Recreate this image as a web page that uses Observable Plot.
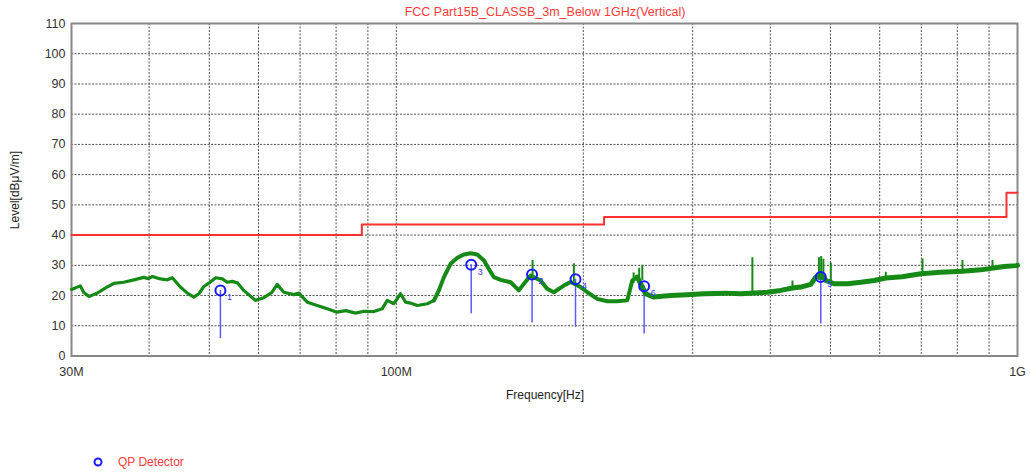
<!DOCTYPE html>
<html>
<head>
<meta charset="utf-8">
<script src="https://cdn.jsdelivr.net/npm/d3@7"></script>
<script src="https://cdn.jsdelivr.net/npm/@observablehq/plot@0.6"></script>
<style>
  html, body { margin: 0; padding: 0; background: #fff; }
  #wrap { position: relative; width: 1030px; height: 476px; font-family: "Liberation Sans", Arial, sans-serif; }
  #chart { position: absolute; left: 0; top: 0; }
  .ov { position: absolute; white-space: nowrap; font-size: 12px; }
  #title { left: 545px; top: 5px; transform: translateX(-50%); color: #ff3a3a; font-size: 12.5px; }
  #xlab { left: 545px; top: 388px; transform: translateX(-50%); color: #222; }
  #ylab { left: 15px; top: 190px; transform: translate(-50%, -50%) rotate(-90deg); color: #222; }
  #legend { left: 92px; top: 455px; color: #ff3a3a; display: flex; align-items: center; }
  #legend svg { margin-right: 14px; }
</style>
</head>
<body>
<div id="wrap">
  <div id="chart"></div>
  <div class="ov" id="title"></div>
  <div class="ov" id="xlab"></div>
  <div class="ov" id="ylab"></div>
  <div class="ov" id="legend"></div>
</div>
<script>
// ---- Text ----
const titleText = "FCC Part15B_CLASSB_3m_Below 1GHz(Vertical)";
const xLabel = "Frequency[Hz]";
const yLabel = "Level[dBμV/m]";
const legendLabel = "QP Detector";

// ---- Axis ticks ----
const xTicks = [30, 100, 1000];                 // MHz
const xTickLabels = ["30M", "100M", "1G"];
const xGrid = [40, 50, 60, 70, 80, 90, 100, 200, 300, 400, 500, 600, 700, 800, 900];
const yTicks = [0, 10, 20, 30, 40, 50, 60, 70, 80, 90, 100, 110];

// ---- Limit line (step) ----
const limitFreq = [30, 88, 216, 960, 1000];
const limitLevel = [40, 43.5, 46, 54, 54];

// ---- Measured trace (MHz, dBμV/m) ----
const traceFreq = [30, 31.0, 31.4, 32.0, 33.0, 34.2, 35.1, 36.4, 37.8, 39.2, 39.9, 40.5, 41.7, 42.8, 43.6, 44.9, 46.1, 47.2, 48.1, 49.0, 49.9, 51.2, 52.5, 53.4, 54.4, 55.5, 56.8, 59.3, 61.2, 63.1, 64.3, 65.9, 68.4, 69.7, 71.9, 74.6, 77.4, 80.3, 82.9, 86.0, 88.7, 92.0, 94.9, 96.7, 99.1, 101.6, 103.5, 105.4, 108.1, 112.2, 115.0, 117.1, 119.3, 122.3, 125.4, 128.5, 131.7, 135.0, 138.4, 140.9, 143.6, 147.2, 152.8, 157.5, 160.5, 164.5, 170.7, 175.0, 179.3, 186.1, 190.8, 198.0, 203.0, 210.6, 218.6, 226.8, 235.4, 239.8, 244.3, 251.9, 259.8, 276.5, 294.2, 312.8, 339.1, 358.4, 395.8, 415.8, 434.3, 447.8, 464.7, 473.4, 482.3, 491.3, 506.7, 532.6, 559.5, 587.7, 613.8, 652, 698.7, 752.4, 815.5, 872.8, 951.5, 993.8, 1000];
const traceLevel = [22, 23.2, 21, 19.7, 20.8, 22.8, 24, 24.4, 25.2, 26, 25.6, 26.3, 25.5, 25.2, 25.9, 22.8, 20.8, 19.5, 20.6, 23, 24.1, 25.9, 25.5, 24.4, 24.7, 24.2, 21.7, 18.4, 19.3, 21.1, 23.7, 21.1, 20.3, 20.8, 17.8, 16.7, 15.6, 14.5, 15, 14.2, 14.8, 14.7, 15.6, 18.4, 17.3, 20.6, 17.8, 17.5, 16.7, 17.3, 18.4, 21.7, 26.1, 30.5, 32.5, 33.6, 34, 33.6, 31.6, 28.8, 26.1, 25.2, 24.4, 21.7, 23.9, 26.6, 25, 22.2, 21.1, 23.3, 24.5, 22.8, 21.1, 18.9, 18.1, 18.1, 18.4, 25, 26.1, 20.6, 19.5, 20, 20.3, 20.6, 20.8, 20.6, 21.1, 21.7, 22.5, 22.8, 23.7, 26.1, 27, 25, 23.9, 23.9, 24.4, 25, 25.8, 26.2, 27.2, 27.7, 28, 28.5, 29.6, 29.9, 30];

// ---- Narrow spikes on the trace ----
const spikeFreq = [165.7, 193.1, 241, 246, 248.9, 374.3, 434.3, 479, 483, 487, 500.6, 613.8, 703.1, 815.5, 911.5];
const spikeBase = [26, 24, 24, 25, 25, 21, 22, 25, 25, 25, 24, 25.5, 27, 28, 29];
const spikeTop = [31.6, 30.5, 27.5, 29, 30, 32.5, 24.8, 32.5, 32.9, 32, 30.7, 27.7, 32.1, 31.6, 31.6];

// ---- QP detector markers ----
const markerFreq = [52.1, 132.0, 165.4, 194.3, 250.6, 482.3];
const markerLevel = [21.7, 30.2, 27.0, 25.4, 23.1, 26.1];
const markerStem = [5.7, 14.0, 10.9, 9.5, 7.3, 10.6];
const markerLabel = ["1", "3", "2", "4", "6", "5"];

// ---- Build tables ----
const trace = traceFreq.map((f, i) => ({f, v: traceLevel[i]}));
const limit = limitFreq.map((f, i) => ({f, v: limitLevel[i]}));
const spikes = spikeFreq.map((f, i) => ({f, b: spikeBase[i], t: spikeTop[i]}));
const markers = markerFreq.map((f, i) => ({f, v: markerLevel[i], s: markerStem[i], label: markerLabel[i]}));

const green = "#168a16";
const blue = "#1a1aff";

const chart = Plot.plot({
  width: 1030,
  height: 476,
  marginLeft: 71,
  marginRight: 13,
  marginTop: 23,
  marginBottom: 120.5,
  style: {fontFamily: "'Liberation Sans', Arial, sans-serif", background: "white"},
  x: {type: "log", domain: [30, 1000]},
  y: {domain: [0, 110]},
  marks: [
    Plot.ruleX(xGrid, {stroke: "#333", strokeWidth: 1, strokeDasharray: "2,1.5", strokeOpacity: 0.85}),
    Plot.ruleY(yTicks.slice(1, -1), {stroke: "#333", strokeWidth: 1, strokeDasharray: "2,1.5", strokeOpacity: 0.85}),
    Plot.frame({stroke: "#888", strokeWidth: 2}),
    Plot.axisY(yTicks, {tickSize: 0, tickPadding: 6, fontSize: 12.5, fill: "#333", label: null}),
    Plot.axisX(xTicks, {tickSize: 0, tickPadding: 11, fontSize: 12.5, fill: "#333", label: null,
      tickFormat: (d) => xTickLabels[xTicks.indexOf(d)]}),
    Plot.line(limit, {x: "f", y: "v", curve: "step-after", stroke: "#ff3030", strokeWidth: 2}),
    Plot.ruleX(markers, {x: "f", y1: "s", y2: "v", stroke: "#5a5aff", strokeWidth: 1.5}),
    Plot.ruleX(spikes, {x: "f", y1: "b", y2: "t", stroke: green, strokeWidth: 2}),
    Plot.line(trace, {filter: d => d.f <= 115, x: "f", y: "v", stroke: green, strokeWidth: 3.2, strokeLinejoin: "round"}),
    Plot.line(trace, {filter: d => d.f >= 115 && d.f <= 245, x: "f", y: "v", stroke: green, strokeWidth: 4, strokeLinejoin: "round"}),
    Plot.line(trace, {filter: d => d.f >= 244, x: "f", y: "v", stroke: green, strokeWidth: 5, strokeLinejoin: "round"}),
    Plot.dot(markers, {x: "f", y: "v", r: 5, stroke: blue, strokeWidth: 2, fill: "none"}),
    Plot.text(markers, {x: "f", y: "v", text: "label", dx: 9, dy: 7, fill: "#3a3aff", fontSize: 9})
  ]
});
document.getElementById("chart").appendChild(chart);

document.getElementById("title").textContent = titleText;
document.getElementById("xlab").textContent = xLabel;
document.getElementById("ylab").textContent = yLabel;
const lg = document.getElementById("legend");
lg.innerHTML = '<svg width="12" height="12"><circle cx="6" cy="6" r="3.5" fill="none" stroke="' + blue + '" stroke-width="2"/></svg>';
const span = document.createElement("span");
span.textContent = legendLabel;
lg.appendChild(span);
</script>
</body>
</html>
